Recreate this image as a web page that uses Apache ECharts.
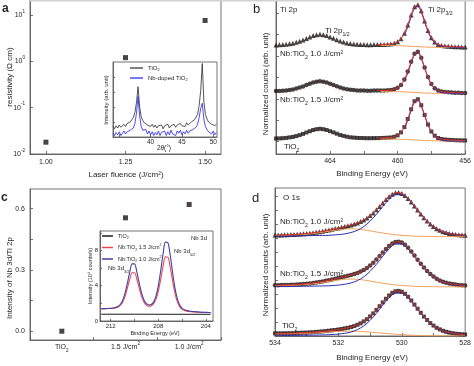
<!DOCTYPE html>
<html><head><meta charset="utf-8">
<script src="https://cdn.jsdelivr.net/npm/echarts@6/dist/echarts.min.js"></script>
<style>html,body{margin:0;padding:0;background:#fff;}#chart{width:474px;height:366px;}</style>
</head><body><div id="chart"></div>
<script>
// ---------- Panel a: resistivity vs laser fluence ----------
const fluence = [1.00, 1.25, 1.50];
const resistivity = [0.018, 1.2, 7.6];
const fluenceTicks = [1.00, 1.25, 1.50];

// ---------- Panel a inset: XRD ----------
const xrdAngle = [34,34.25,34.5,34.75,35,35.25,35.5,35.75,36,36.25,36.5,36.75,37,37.25,37.5,37.75,38,38.25,38.5,38.75,39,39.25,39.5,39.75,40,40.25,40.5,40.75,41,41.25,41.5,41.75,42,42.25,42.5,42.75,43,43.25,43.5,43.75,44,44.25,44.5,44.75,45,45.25,45.5,45.75,46,46.25,46.5,46.75,47,47.25,47.5,47.75,48,48.25,48.5,48.75,49,49.25,49.5,49.75,50,50.25,50.5];
const xrdTiO2 = [14,11,15,12,16,13,15,17,14,18,16,20, 22,26,33,46,67,40,27,22,19,21,16,18, 14,17,13,16,12,15,13,16,11,15,13,17, 12,15,14,17,13,16,14,18,15,17,14,19, 16,18,20,19,23,25,30,42,62,98,48,30, 24,20,21,17,19,15,17];
const xrdNbTiO2 = [5,2,6,3,7,2,5,8,4,7,5,9, 8,12,18,32,54,28,14,9,7,10,4,8, 3,7,2,6,3,8,2,6,4,8,2,7, 3,9,4,6,2,8,5,9,3,7,4,9, 5,8,6,10,9,13,17,26,38,45,24,14, 10,7,9,4,8,3,6];
const xrdTicks = [40, 45, 50];

// ---------- Panel b: Ti 2p ----------
const ti2pEnergy = [467.2,467.0,466.8,466.6,466.4,466.2,466.0,465.8,465.6,465.4,465.2,465.0,464.8,464.6,464.4,464.2,464.0,463.8,463.6,463.4,463.2,463.0,462.8,462.6,462.4,462.2,462.0,461.8,461.6,461.4,461.2,461.0,460.8,460.6,460.4,460.2,460.0,459.8,459.6,459.4,459.2,459.0,458.8,458.6,458.4,458.2,458.0,457.8,457.6,457.4,457.2,457.0,456.8,456.6,456.4,456.2,456.0];
const ti2pNb10 = [109.0,109.2,109.4,109.7,110.2,110.8,111.7,112.8,114.1,115.6,117.1,118.4, 119.3,119.7,119.3,118.4,117.1,115.7,114.3,112.9,111.9,111.0,110.4,110.0, 109.7,109.6,109.5,109.3,109.3,109.4,109.4,109.5,109.6,109.8,110.1,110.8, 112.3,115.3,120.7,129.0,139.0,147.3,149.2,143.2,133.1,123.4,116.2,111.9, 109.6,108.5,108.0,107.7,107.5,107.3,107.2,107.1,107.0];
const ti2pNb15 = [63.0,63.1,63.3,63.6,64.1,64.6,65.4,66.4,67.6,69.0,70.3,71.5, 72.3,72.7,72.3,71.5,70.3,69.1,67.8,66.5,65.6,64.8,64.2,63.9, 63.6,63.5,63.4,63.3,63.3,63.4,63.4,63.5,63.6,63.8,64.0,64.7, 66.2,69.1,74.4,82.5,92.2,100.3,102.2,96.3,86.5,77.0,70.0,65.8, 63.5,62.5,62.0,61.7,61.5,61.3,61.2,61.1,61.0];
const ti2pTiO2 = [15.5,15.6,15.8,16.1,16.6,17.1,17.9,18.9,20.1,21.5,22.8,24.0, 24.8,25.2,24.8,24.0,22.8,21.6,20.3,19.0,18.1,17.3,16.7,16.4, 16.1,16.0,15.9,15.8,15.8,15.9,15.9,16.0,16.1,16.3,16.5,17.2, 18.7,21.6,26.9,35.0,44.7,52.8,54.7,48.8,39.0,29.5,22.5,18.3, 16.0,15.0,14.5,14.2,14.0,13.8,13.7,13.6,13.5];
const ti2pFitStart = 30; // fit envelope covers 461.2 -> 456.0 eV
const ti2pBgEnergy = [461.0,460.4,460.0,459.6,459.2,458.8,458.4,458.0,457.6,457.0,456.0];
const ti2pBgNb10 = [108.5,108.4,108.3,108.1,107.7,107.4,107.0,106.8,106.6,106.5,106.5];
const ti2pBgNb15 = [62.5,62.4,62.3,62.1,61.7,61.4,61.0,60.8,60.6,60.5,60.5];
const ti2pBgTiO2 = [15.0,14.9,14.8,14.6,14.2,13.9,13.5,13.3,13.1,13.0,13.0];
const ti2pPkEnergy = [459.6,459.4,459.2,459.0,458.8,458.6,458.4,458.2,458.0,457.8,457.6,457.4,457.2,457.0,456.6,456.0];
const ti2pPkNb10 = [118.5,127.0,137.2,145.6,147.7,141.9,132.0,122.4,115.3,111.1,108.9,107.8,107.3,107.0,106.7,106.5];
const ti2pPkNb15 = [72.7,81.0,90.9,99.2,101.2,95.6,85.9,76.5,69.6,65.0,62.8,61.5,61.0,60.7,60.5,60.4];
const ti2pPkTiO2 = [25.2,33.5,43.4,51.7,53.7,48.1,38.4,29.0,22.1,17.5,15.3,14.0,13.5,13.2,13.0,12.9];

// ---------- Panel c: Nb 3d / Ti 2p ratio ----------
const samples = ['TiO2', '1.5 J/cm2', '1.0 J/cm2'];
const nbTiRatio = [0.0, 0.555, 0.62];
// inset: Nb 3d spectra
const nb3dEnergy = [212.8,212.6,212.4,212.2,212.0,211.8,211.6,211.4,211.2,211.0,210.8,210.6,210.4,210.2,210.0,209.8,209.6,209.4,209.2,209.0,208.8,208.6,208.4,208.2,208.0,207.8,207.6,207.4,207.2,207.0,206.8,206.6,206.4,206.2,206.0,205.8,205.6,205.4,205.2,205.0,204.8,204.6,204.4,204.2,204.0,203.8,203.6];
const nb3dNb10 = [1.39,1.40,1.41,1.43,1.45,1.48,1.54,1.64,1.87,2.33, 3.13,4.27,5.55,6.47,6.47,5.55,4.28,3.15,2.37,1.96, 1.81,1.86,2.14,2.80,3.97,5.68,7.58,8.94,8.90,7.49, 5.52,3.76,2.53,1.81,1.44,1.27,1.18,1.12,1.09,1.06, 1.04,1.02,1.00,0.99,0.98,0.97,0.96];
const nb3dNb15 = [1.37,1.38,1.39,1.41,1.42,1.45,1.49,1.58,1.76,2.13, 2.77,3.70,4.73,5.47,5.47,4.73,3.69,2.77,2.14,1.80, 1.68,1.71,1.94,2.45,3.37,4.71,6.21,7.27,7.24,6.12, 4.57,3.17,2.20,1.63,1.34,1.20,1.12,1.08,1.05,1.03, 1.01,0.99,0.98,0.97,0.96,0.96,0.95];
const nb3dTiO2Energy = [212.8,210.0,207.0,204.0,203.6];
const nb3dTiO2 = [0.77,0.77,0.76,0.76,0.76];

// ---------- Panel d: O 1s ----------
const o1sEnergy = [534.0,533.9,533.8,533.7,533.6,533.5,533.4,533.3,533.2,533.1,533.0,532.9,532.8,532.7,532.6,532.5,532.4,532.3,532.2,532.1,532.0,531.9,531.8,531.7,531.6,531.5,531.4,531.3,531.2,531.1,531.0,530.9,530.8,530.7,530.6,530.5,530.4,530.3,530.2,530.1,530.0,529.9,529.8,529.7,529.6,529.5,529.4,529.3,529.2,529.1,529.0,528.9,528.8,528.7,528.6,528.5,528.4,528.3,528.2,528.1,528.0];
const o1sNb10 = [100.9,101.0,101.1,101.2,101.2,101.4,101.5,101.7,101.9,102.2, 102.5,102.8,103.2,103.7,104.2,104.8,105.4,106.0,106.7,107.4, 108.1,108.8,109.6,110.3,111.1,112.0,113.1,114.4,116.1,118.0, 120.4,123.1,126.2,129.6,133.0,136.4,139.4,141.8,143.2,143.5, 142.6,140.6,137.6,134.0,130.0,125.9,121.9,118.2,114.9,111.9, 109.4,107.3,105.7,104.3,103.4,102.6,102.0,101.6,101.2,101.0, 100.8];
const o1sNb15 = [50.7,50.8,50.9,51.0,51.0,51.2,51.3,51.5,51.7,52.0, 52.3,52.6,53.0,53.5,54.0,54.6,55.2,55.8,56.5,57.2, 57.9,58.7,59.5,60.2,61.0,61.9,63.0,64.4,66.1,68.1, 70.6,73.3,76.5,80.0,83.5,87.0,90.1,92.5,94.0,94.3, 93.4,91.3,88.3,84.6,80.5,76.3,72.2,68.4,65.1,62.0, 59.4,57.3,55.6,54.2,53.3,52.5,51.9,51.5,51.0,50.8, 50.6];
const o1sTiO2 = [2.6,2.6,2.6,2.7,2.7,2.8,2.9,3.0,3.2,3.3, 3.4,3.6,3.8,4.1,4.3,4.6,4.9,5.3,5.7,6.0, 6.5,7.0,7.6,8.2,9.0,9.9,11.2,12.7,14.6,16.8, 19.6,22.6,26.1,29.8,33.6,37.2,40.5,43.1,44.7,45.1, 44.2,42.2,39.2,35.5,31.4,27.3,23.2,19.4,16.0,12.9, 10.4,8.2,6.6,5.2,4.2,3.4,2.8,2.3,2.0,1.7, 1.5];
const o1sCompEnergy = [534.0,533.8,533.6,533.4,533.2,533.0,532.8,532.6,532.4,532.2,532.0,531.8,531.6,531.4,531.2,531.0,530.8,530.6,530.4,530.2,530.0,529.8,529.6,529.4,529.2,529.0,528.8,528.6,528.4,528.2,528.0];
const o1sPkNb10 = [99.9,100.0,100.0,100.1,100.2,100.3,100.4,100.5,100.6,100.9,101.4,102.1,103.5,105.7,109.4,114.8,121.7,129.5,136.8,141.4,141.4,136.8,129.5,121.7,114.8,109.4,105.7,103.5,102.1,101.4,100.9];
const o1sShNb10 = [100.5,100.6,100.7,100.9,101.3,101.7,102.4,103.2,104.2,105.3,106.2,106.9,107.2,106.9,106.2,105.1,104.0,103.0,102.1,101.3,100.7,100.3,99.9,99.7,99.6,99.5,99.4,99.4,99.4,99.4,99.3];
const o1sPkNb15 = [49.4,49.5,49.5,49.6,49.7,49.8,49.9,50.0,50.1,50.4,50.9,51.7,53.1,55.4,59.1,64.7,71.7,79.7,87.2,91.9,91.9,87.2,79.7,71.7,64.7,59.1,55.4,53.1,51.7,50.9,50.4];
const o1sShNb15 = [50.3,50.4,50.5,50.7,51.1,51.5,52.2,53.0,54.0,55.1,56.0,56.7,57.0,56.7,56.0,54.9,53.8,52.8,51.9,51.1,50.5,50.1,49.7,49.5,49.4,49.3,49.2,49.2,49.2,49.1,49.1];
const o1sPkTiO2 = [0.4,0.5,0.5,0.6,0.7,0.8,0.9,1.0,1.2,1.5,1.9,2.7,4.0,6.4,10.1,15.6,22.7,30.8,38.2,42.8,42.8,38.2,30.8,22.7,15.6,10.1,6.4,4.0,2.7,1.9,1.5];
const o1sShTiO2 = [2.1,2.2,2.2,2.3,2.5,2.7,2.9,3.3,3.7,4.2,4.6,4.8,4.9,4.8,4.4,3.9,3.4,2.8,2.3,1.8,1.4,1.0,0.7,0.5,0.3,0.2,0.2,0.1,0.1,0.1,0.1];

// ---------- rendering ----------
const FF = '"Liberation Sans", Arial, Helvetica, sans-serif';
const TXT = '#262626', AXC = '#505050';
const RED = '#e0302a', BLUE = '#2c2cb4', ORANGE = '#f2a155', MARK = '#1e1414';

function richE(fs, lh) {
  lh = lh || fs + 5; const s = Math.round(fs * 0.65 * 10) / 10;
  return { n:{fontSize:fs, lineHeight:lh, color:TXT, fontFamily:FF},
           it:{fontSize:fs, lineHeight:lh, color:TXT, fontFamily:FF, fontStyle:'italic'},
           sb:{fontSize:s, verticalAlign:'bottom', color:TXT, fontFamily:FF},
           sp:{fontSize:s, verticalAlign:'top', color:TXT, fontFamily:FF} };
}
function richG(fs, lh) {
  lh = lh || fs + 5; const s = Math.round(fs * 0.65 * 10) / 10;
  return { n:{fontSize:fs, lineHeight:lh, fill:TXT, fontFamily:FF},
           it:{fontSize:fs, lineHeight:lh, fill:TXT, fontFamily:FF, fontStyle:'italic'},
           sb:{fontSize:s, lineHeight:s + 1, verticalAlign:'bottom', fill:TXT, fontFamily:FF} };
}
function gt(text, x, y, fs, o) {
  o = o || {};
  const al = o.align || 'left';
  return { type:'text', x:x, y:y, rotation:o.rot || 0, z:100,
    style:{ text:text, fontSize:fs, fontFamily:FF, fontWeight:o.bold ? 'bold' : 'normal', fill:TXT,
      align:al, verticalAlign:'middle', rich:richG(fs) } };
}
const pts = (xs, ys) => xs.map((x, i) => [x, ys[i]]);
const line = {show:true, onZero:false, lineStyle:{color:AXC, width:0.8}};
function tick(vals, len) { const t = {show:true, inside:true, length:len || 3, lineStyle:{color:AXC, width:0.8}}; if (vals) t.customValues = vals; return t; }
function lab(vals, fs, margin, fmt) { const l = {show:true, fontSize:fs, fontFamily:FF, color:TXT, margin:margin}; if (vals) l.customValues = vals; if (fmt) l.formatter = fmt; return l; }
const noLab = {show:false};
const noSplit = {show:false};
function valAxis(gi, min, max, ticks, labels, fs, margin, extra) {
  return Object.assign({gridIndex:gi, type:'value', min:min, max:max, axisLine:line, axisTick:tick(ticks),
    axisLabel: labels ? lab(labels, fs, margin) : noLab, splitLine:noSplit}, extra || {});
}
function logFmt(v) {
  const l = Math.log10(v), e = Math.round(l);
  if (Math.abs(l - e) > 1e-6) return '';
  return '{n|10}{sp|' + e + '}';
}
const catText = {'TiO2':'{n|TiO}{sb|2}', '1.5 J/cm2':'{n|1.5 J/cm}{sp|2}', '1.0 J/cm2':'{n|1.0 J/cm}{sp|2}'};
const legText = {xrdTi:'{n|TiO}{sb|2}', xrdNb:'{n|Nb-doped TiO}{sb|2}',
  nbTi:'{n|TiO}{sb|2}', nb15:'{n|Nb:TiO}{sb|2}{n| 1.5 J/cm}{sp|2}', nb10:'{n|Nb:TiO}{sb|2}{n| 1.0 J/cm}{sp|2}'};

function scat(name, xi, E, Y, sym, size) {
  return {name:name, type:'scatter', xAxisIndex:xi, yAxisIndex:xi, data:pts(E, Y), symbol:sym, symbolSize:size,
    itemStyle:{color:MARK}, z:2, silent:true, animation:false};
}
function ln(name, xi, E, Y, color, w, z, smooth) {
  return {name:name, type:'line', xAxisIndex:xi, yAxisIndex:xi, data:pts(E, Y), symbol:'none', showSymbol:false,
    smooth:smooth === undefined ? 0.3 : smooth, lineStyle:{color:color, width:w}, itemStyle:{color:color}, z:z, silent:true, animation:false};
}
const gridBase = {show:true, borderColor:AXC, borderWidth:0.8, backgroundColor:'#fff', containLabel:false};
const g = (l, t, w, h) => Object.assign({left:l, top:t, width:w, height:h}, gridBase);

const fitE = ti2pEnergy.slice(ti2pFitStart);

const option = {
  animation:false,
  backgroundColor:'#fff',
  textStyle:{fontFamily:FF},
  grid:[ g(30, 0, 191, 154), g(113, 62, 104, 75), g(276, 0, 192, 154),
         g(30, 189, 191, 151), g(100, 231, 113, 90), g(275, 188, 193, 148) ],
  xAxis:[
    valAxis(0, 0.95, 1.55, fluenceTicks, null, 7, 5, {axisLabel:lab(fluenceTicks, 7, 5, v => v.toFixed(2))}),
    valAxis(1, 34, 50.6, [35, 40, 45, 50], xrdTicks, 6.5, 2),
    valAxis(2, 456, 467.2, [456, 458, 460, 462, 464, 466], [456, 460, 464], 7, 4, {inverse:true}),
    {gridIndex:3, type:'category', data:samples, boundaryGap:true, axisLine:line, axisTick:tick(null),
      axisLabel:{show:true, interval:0, margin:1, fontSize:7, fontFamily:FF, color:TXT, formatter:v => catText[v], rich:richE(7)}, splitLine:noSplit},
    valAxis(4, 203.4, 212.9, [204, 206, 208, 210, 212], [204, 208, 212], 6, 2, {inverse:true, axisTick:tick([204,206,208,210,212], 2)}),
    valAxis(5, 528, 534, [528, 529, 530, 531, 532, 533, 534], [528, 530, 532, 534], 7, 4, {inverse:true})
  ],
  yAxis:[
    {gridIndex:0, type:'log', logBase:10, min:0.01, max:21, axisLine:line, axisTick:tick(null),
      axisLabel:{show:true, fontSize:7, fontFamily:FF, color:TXT, margin:5, formatter:logFmt, rich:richE(7)}, splitLine:noSplit},
    valAxis(1, 0, 100, [20, 40, 60, 80], null, 6, 2, {axisTick:tick([20,40,60,80], 2)}),
    valAxis(2, 0, 154, [13, 34, 55, 77, 98, 120, 141], null, 7, 4),
    valAxis(3, -0.043, 0.696, [0, 0.15, 0.3, 0.45, 0.6], null, 7, 5, {axisLabel:lab([0, 0.3, 0.6], 7, 5, v => v.toFixed(1))}),
    valAxis(4, 0, 10.2, [0, 2, 4, 6, 8, 10], [0, 4, 8], 6, 2, {axisTick:tick([0,2,4,6,8,10], 2)}),
    valAxis(5, 0, 148, [14, 28, 42, 56, 70, 84, 98, 112, 126, 140], null, 7, 4)
  ],
  legend:[
    {data:['xrdTi', 'xrdNb'], orient:'vertical', left:130, top:65, icon:'rect', itemWidth:13, itemHeight:1.2, itemGap:3, padding:0,
      selectedMode:false, formatter:n => legText[n], textStyle:{fontSize:6, fontFamily:FF, color:TXT, rich:richE(6, 8)}},
    {data:['nbTi', 'nb15', 'nb10'], orient:'vertical', left:102, top:233, icon:'rect', itemWidth:11, itemHeight:1.5, itemGap:3, padding:0,
      selectedMode:false, formatter:n => legText[n], textStyle:{fontSize:5.5, fontFamily:FF, color:TXT, rich:richE(5.5, 8.5)}}
  ],
  series:[
    scat('a', 0, fluence, resistivity, 'rect', 5),
    ln('xrdTi', 1, xrdAngle, xrdTiO2, '#2a2a2a', 0.8, 5, false),
    ln('xrdNb', 1, xrdAngle, xrdNbTiO2, '#2020f0', 0.8, 6, false),
    // Ti 2p
    scat('b1', 2, ti2pEnergy, ti2pNb10, 'triangle', 5),
    scat('b2', 2, ti2pEnergy, ti2pNb15, 'circle', 4.5),
    scat('b3', 2, ti2pEnergy, ti2pTiO2, 'rect', 4),
    ln('bbg1', 2, ti2pBgEnergy, ti2pBgNb10, ORANGE, 1, 3),
    ln('bbg2', 2, ti2pBgEnergy, ti2pBgNb15, ORANGE, 1, 3),
    ln('bbg3', 2, ti2pBgEnergy, ti2pBgTiO2, ORANGE, 1, 3),
    ln('bpk1', 2, ti2pPkEnergy, ti2pPkNb10, BLUE, 1, 4),
    ln('bpk2', 2, ti2pPkEnergy, ti2pPkNb15, BLUE, 1, 4),
    ln('bpk3', 2, ti2pPkEnergy, ti2pPkTiO2, BLUE, 1, 4),
    ln('bfit1', 2, fitE, ti2pNb10.slice(ti2pFitStart), RED, 1, 5),
    ln('bfit2', 2, fitE, ti2pNb15.slice(ti2pFitStart), RED, 1, 5),
    ln('bfit3', 2, fitE, ti2pTiO2.slice(ti2pFitStart), RED, 1, 5),
    // c
    scat('c', 3, samples, nbTiRatio, 'rect', 5),
    ln('nbTi', 4, nb3dTiO2Energy, nb3dTiO2, '#1a1a1a', 1, 5, false),
    ln('nb15', 4, nb3dEnergy, nb3dNb15, '#f04848', 1.1, 6),
    ln('nb10', 4, nb3dEnergy, nb3dNb10, '#4040a8', 1.1, 7),
    // O 1s
    scat('d1', 5, o1sEnergy, o1sNb10, 'triangle', 5),
    scat('d2', 5, o1sEnergy, o1sNb15, 'circle', 4.5),
    scat('d3', 5, o1sEnergy, o1sTiO2, 'rect', 4),
    ln('dsh1', 5, o1sCompEnergy, o1sShNb10, ORANGE, 1, 3),
    ln('dsh2', 5, o1sCompEnergy, o1sShNb15, ORANGE, 1, 3),
    ln('dsh3', 5, o1sCompEnergy, o1sShTiO2, ORANGE, 1, 3),
    ln('dpk1', 5, o1sCompEnergy, o1sPkNb10, BLUE, 1, 4),
    ln('dpk2', 5, o1sCompEnergy, o1sPkNb15, BLUE, 1, 4),
    ln('dpk3', 5, o1sCompEnergy, o1sPkTiO2, BLUE, 1, 4),
    ln('dfit1', 5, o1sEnergy, o1sNb10, RED, 1, 5),
    ln('dfit2', 5, o1sEnergy, o1sNb15, RED, 1, 5),
    ln('dfit3', 5, o1sEnergy, o1sTiO2, RED, 1, 5)
  ],
  graphic:[
    {type:'rect', shape:{x:30, y:0, width:444, height:1.6}, style:{fill:'#d2d2d2'}, z:200},
    gt('a', 2, 9, 12, {bold:true}),
    gt('b', 253, 9, 13, {}),
    gt('c', 1, 198, 12, {bold:true}),
    gt('d', 252, 198, 13, {}),
    // panel a
    gt('resistivity (Ω cm)', 10, 77, 8, {rot:Math.PI/2, align:'center'}),
    gt('Laser fluence (J/cm²)', 126, 175, 8, {align:'center'}),
    gt('Intensity (arb. unit)', 106, 100, 6, {rot:Math.PI/2, align:'center'}),
    gt('{n|2}{it|θ}{n|(°)}', 164, 148, 6.5, {align:'center'}),
    // panel b
    gt('Normalized counts (arb. unit)', 266, 84, 8, {rot:Math.PI/2, align:'center'}),
    gt('Binding Energy (eV)', 372, 174, 8, {align:'center'}),
    gt('Ti 2p', 280, 10, 8),
    gt('{n|Ti 2p}{sb|3/2}', 428, 10, 8),
    gt('{n|Ti 2p}{sb|1/2}', 325, 31, 8),
    gt('{n|Nb:TiO}{sb|2}{n| 1.0 J/cm²}', 280, 54, 8),
    gt('{n|Nb:TiO}{sb|2}{n| 1.5 J/cm²}', 280, 100, 8),
    gt('{n|TiO}{sb|2}', 284, 147, 8),
    // panel c
    gt('Intensity of Nb 3d/Ti 2p', 10, 278, 8, {rot:Math.PI/2, align:'center'}),
    gt('Intensity (10⁴ counts/s)', 90, 276, 5.5, {rot:Math.PI/2, align:'center'}),
    gt('Binding Energy (eV)', 155, 333, 5.5, {align:'center'}),
    gt('Nb 3d', 191, 238, 6),
    gt('{n|Nb 3d}{sb|5/2}', 174, 251, 6),
    gt('{n|Nb 3d}{sb|3/2}', 108, 268, 6),
    // panel d
    gt('Normalized counts (arb. unit)', 266, 265, 8, {rot:Math.PI/2, align:'center'}),
    gt('Binding Energy (eV)', 372, 358, 8, {align:'center'}),
    gt('O 1s', 283, 198, 8),
    gt('{n|Nb:TiO}{sb|2}{n| 1.0 J/cm²}', 280, 222, 8),
    gt('{n|Nb:TiO}{sb|2}{n| 1.5 J/cm²}', 280, 274, 8),
    gt('{n|TiO}{sb|2}', 282, 326, 8)
  ]
};
const chart = echarts.init(document.getElementById('chart'), null, {renderer:'canvas', width:474, height:366});
chart.setOption(option);
</script></body></html>
